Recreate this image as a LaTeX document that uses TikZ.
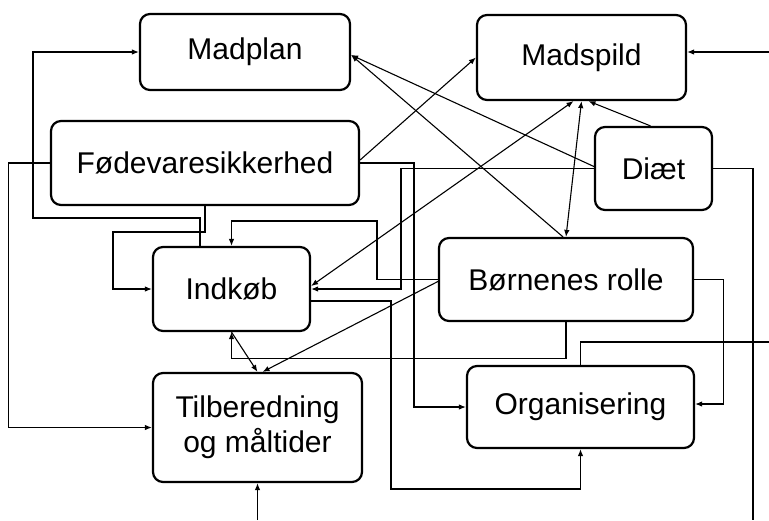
\documentclass[tikz,border=0pt]{standalone}
\usepackage{fontspec}
\setmainfont{Liberation Sans}
\usetikzlibrary{arrows.meta}

\begin{document}
\begin{tikzpicture}[x=1pt, y=-1pt, >={Latex[length=7pt,width=5.5pt]},
    box/.style={draw, line width=2.2pt, rounded corners=10pt, inner sep=0pt, align=center, font=\fontsize{30}{35}\selectfont},
    wire/.style={line width=1.1pt},
    link/.style={wire, ->}]
    \useasboundingbox (0,0) rectangle (769,520);
    % boxes
    \node[box, minimum width=210pt, minimum height=76pt] (madplan) at (245,52) {Madplan};
    \node[box, minimum width=209pt, minimum height=85pt] (madspild) at (581.5,57.5) {Madspild};
    \node[box, minimum width=308pt, minimum height=84pt] (foede) at (205,163) {Fødevaresikkerhed};
    \node[box, minimum width=117pt, minimum height=83pt] (diaet) at (653.5,168.5) {Diæt};
    \node[box, minimum width=157pt, minimum height=84pt] (indkoeb) at (231.5,289) {Indkøb};
    \node[box, minimum width=254pt, minimum height=83pt] (boern) at (566,279.5) {Børnenes rolle};
    \node[box, minimum width=227pt, minimum height=82pt] (orga) at (580.5,407) {Organisering};
    \node[box, minimum width=209pt, minimum height=109pt] (tilb) at (257.5,427.5) {Tilberedning\\og måltider};
    % free ends at the border
    \coordinate (fromRight) at (769,52);
    \coordinate (toBottom) at (753,520);
    \coordinate (toRight) at (769,342);
    \coordinate (fromBottom) at (257.5,520);
    % elbow links
    \draw[link] (foede.west) -- ++(-41,0) |- (tilb.west);
    \draw[link] ([xshift=-31.5pt]indkoeb.north) |- (33,218) |- (madplan.west);
    \draw[link] (foede.south) |- (113,232) |- (indkoeb.west);
    \draw[link] (boern.west) -| (377,221) -| (indkoeb.north);
    \draw[link] (diaet.west) -| (401,289) -- (indkoeb.east);
    \draw[link] (foede.east) -| (414,407) -- (orga.west);
    \draw[link] ([yshift=-12pt]indkoeb.east) -| (391,489) -| (orga.south);
    \draw[link] (boern.south) |- ([yshift=-26pt]indkoeb.south) -- (indkoeb.south);
    \draw[link] (boern.east) -| ([xshift=28pt,yshift=3pt]orga.east) -- ([yshift=3pt]orga.east);
    % straight links
    \draw[link] (indkoeb.south) -- (tilb.north);
    \draw[link] ([yshift=-2pt]boern.west) -- ([xshift=5pt]tilb.north);
    \draw[wire, <->] ([yshift=3pt]indkoeb.east) -- ([xshift=-8pt]madspild.south);
    \draw[wire, <->] (boern.north) -- (madspild.south);
    \draw[link] ([xshift=-3pt]diaet.north) -- ([xshift=7pt]madspild.south);
    \draw[link] ([yshift=3pt]foede.east) -- (madspild.west);
    \draw[link] ([yshift=2pt]diaet.west) -- ([yshift=-3pt]madplan.east);
    \draw[link] ([xshift=-3pt]boern.north) -- ([yshift=-3pt]madplan.east);
    % links leaving the picture
    \draw[link] (fromRight) -- (fromRight -| madspild.east);
    \draw[wire] (diaet.east) -| (toBottom);
    \draw[wire] (orga.north) |- (toRight);
    \draw[link] (fromBottom) -- (tilb.south);
\end{tikzpicture}
\end{document}
